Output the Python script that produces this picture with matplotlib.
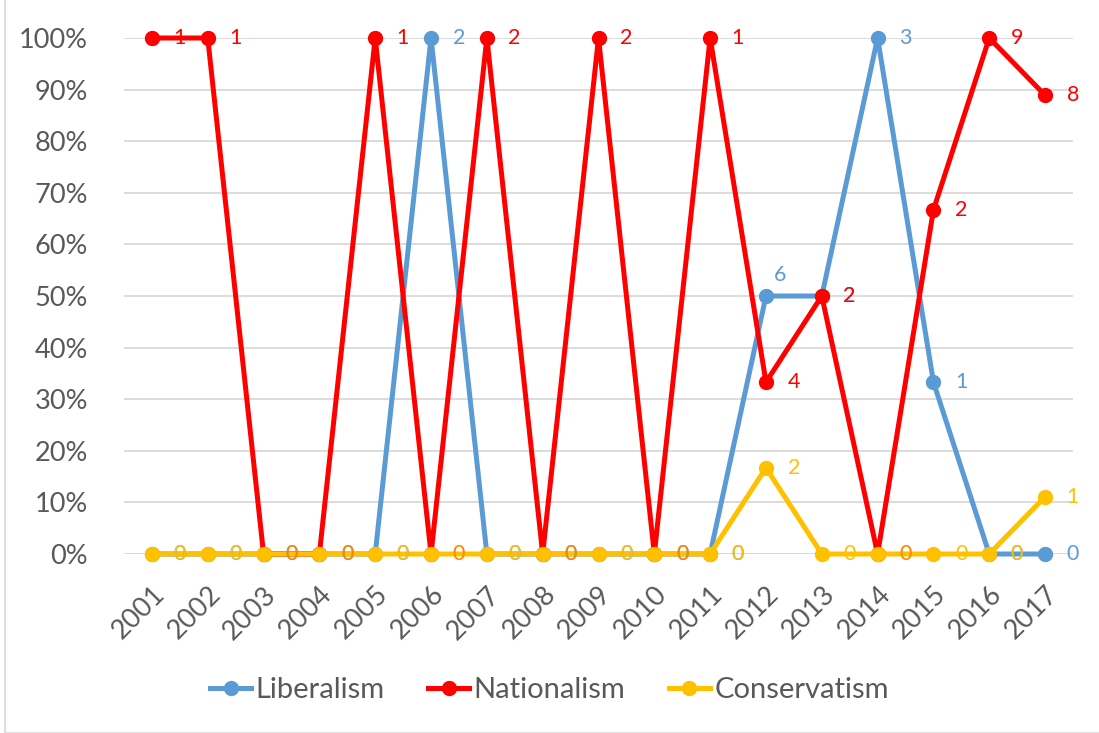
import matplotlib
matplotlib.use("Agg")
import matplotlib.pyplot as plt
from matplotlib.ticker import FuncFormatter, MultipleLocator
from matplotlib.patches import Rectangle

plt.rcParams['font.family'] = ['Lato', 'DejaVu Sans']

years = [str(y) for y in range(2001, 2018)]
liberalism = [0, 0, 0, 0, 0, 100, 0, 0, 0, 0, 0, 50, 50, 100, 33.3, 0, 0]
nationalism = [100, 100, 0, 0, 100, 0, 100, 0, 100, 0, 100, 33.3, 50, 0, 66.7, 100, 88.9]
conservatism = [0, 0, 0, 0, 0, 0, 0, 0, 0, 0, 0, 16.7, 0, 0, 0, 0, 11.1]
lib_labels = [0, 0, 0, 0, 0, 2, 0, 0, 0, 0, 0, 6, 2, 3, 1, 0, 0]
nat_labels = [1, 1, 0, 0, 1, 0, 2, 0, 2, 0, 1, 4, 2, 0, 2, 9, 8]
con_labels = [0, 0, 0, 0, 0, 0, 0, 0, 0, 0, 0, 2, 0, 0, 0, 0, 1]

colors = {'Liberalism': '#5B9BD5', 'Nationalism': '#FF0000', 'Conservatism': '#FFC000'}

fig = plt.figure(figsize=(10.99, 7.33), dpi=100)
ax = fig.add_axes([124/1099, 1 - 554/733, (1073-124)/1099, (554-38)/733])

x = list(range(len(years)))
series = [('Liberalism', liberalism, lib_labels),
          ('Nationalism', nationalism, nat_labels),
          ('Conservatism', conservatism, con_labels)]
for name, vals, labs in series:
    ax.plot(x, vals, color=colors[name], lw=3.6, marker='o', ms=10,
            label=name, solid_joinstyle='round', clip_on=False, zorder=3)

# labels: liberalism, then conservatism, then nationalism (translucent where it overlaps)
label_order = [series[0], series[2], series[1]]
for z, (name, vals, labs) in enumerate(label_order):
    for i, (xi, v, l) in enumerate(zip(x, vals, labs)):
        off = (20, 0)
        if name == 'Liberalism' and years[i] == '2012':
            off = (10, 15)
        alpha = 1.0
        if name == 'Nationalism' and v == conservatism[i]:
            alpha = 0.3
        ax.annotate(str(l), (xi, v), xytext=off, textcoords='offset points',
                    ha='center', va='center', fontsize=15.5, color=colors[name],
                    alpha=alpha, zorder=5 + z, annotation_clip=False)

ax.set_xlim(-0.5, len(years) - 0.5)
ax.set_ylim(0, 100)
ax.yaxis.set_major_locator(MultipleLocator(10))
ax.yaxis.set_major_formatter(FuncFormatter(lambda v, p: f"{int(round(v))}%"))
ax.set_xticks(x)
ax.set_xticklabels(years, rotation=45, ha='right', rotation_mode='anchor')
ax.tick_params(axis='both', length=0, labelsize=19.5, colors='#595959')
ax.tick_params(axis='y', pad=26)
ax.tick_params(axis='x', pad=20)
ax.grid(axis='y', color='#D9D9D9', lw=1.3, zorder=0)
for s in ax.spines.values():
    s.set_visible(False)
ax.axhline(0, color='#D9D9D9', lw=1.3, zorder=1)

leg = fig.legend(loc='center', bbox_to_anchor=(0.5, 1 - 690/733), ncol=3,
                 frameon=False, fontsize=21, handlelength=1.4, columnspacing=1.5,
                 handletextpad=0.15)
for t in leg.get_texts():
    t.set_color('#595959')

fig.patches.append(Rectangle((5/1099, 0), 1.2, 1.2, transform=fig.transFigure,
                             fill=False, edgecolor='#D9D9D9', lw=1.2))
fig.savefig('out.png', dpi=100)
